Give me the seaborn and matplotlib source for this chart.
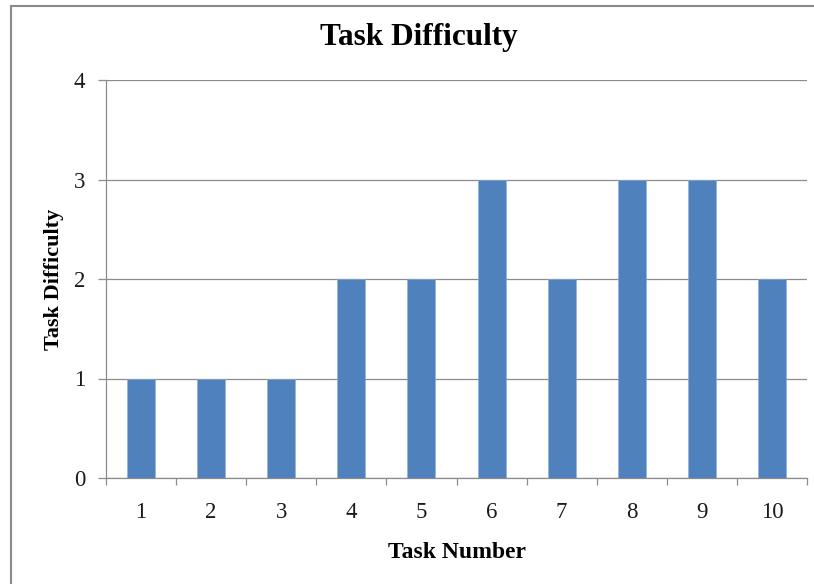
import matplotlib
matplotlib.use("Agg")
import matplotlib.pyplot as plt
import seaborn as sns
import pandas as pd
import numpy as np
from matplotlib.patches import Rectangle

# Difficulty rating for each task
tasks = ["1", "2", "3", "4", "5", "6", "7", "8", "9", "10"]
difficulty = [1, 1, 1, 2, 2, 3, 2, 3, 3, 2]
y_ticks = [0, 1, 2, 3, 4]

df = pd.DataFrame({"Task": tasks, "Difficulty": difficulty})

sns.set_theme(style="white")
plt.rcParams["font.family"] = ["Liberation Serif", "DejaVu Serif"]

fig = plt.figure(figsize=(8.14, 5.84), dpi=100)
ax = fig.add_axes([106 / 814, 1 - 478 / 584, (807 - 106) / 814, (478 - 80) / 584])

grid_col = "#8c8c8c"
sns.barplot(data=df, x="Task", y="Difficulty", order=tasks, color="#4f81bd",
            saturation=1, width=0.4, ax=ax, zorder=3, edgecolor="#8fb0d8", linewidth=0.4)

ax.set_ylim(0, 4)
ax.set_xlim(-0.5, len(tasks) - 0.5)
ax.set_yticks(y_ticks)
ax.set_yticklabels([str(v) for v in y_ticks])
ax.yaxis.grid(True, color=grid_col, linewidth=0.9, zorder=0)
ax.set_axisbelow(True)

for side in ["top", "right"]:
    ax.spines[side].set_visible(False)
for side in ["left", "bottom"]:
    ax.spines[side].set_color(grid_col)
    ax.spines[side].set_linewidth(0.9)

# Category boundary ticks on the x axis
ax.set_xticks(np.arange(-0.5, len(tasks), 1.0), minor=True)
ax.tick_params(axis="x", which="minor", direction="out", length=5, width=0.9,
               color=grid_col, bottom=True)
ax.tick_params(axis="x", which="major", length=0, pad=17, labelsize=16.5,
               labelcolor="#1a1a1a")
ax.tick_params(axis="y", which="major", direction="out", length=6, width=0.9,
               color=grid_col, left=True, pad=9, labelsize=16.5, labelcolor="#1a1a1a")

ax.set_xlabel("Task Number", fontsize=17, fontweight="bold", labelpad=14, color="black")
ax.set_ylabel("Task Difficulty", fontsize=16, fontweight="bold", labelpad=7, color="black")
fig.text(419 / 814, 1 - 37 / 584, "Task Difficulty",
         ha="center", va="center", fontsize=22.5, fontweight="bold", color="black")

# Chart area outline
fig.patches.append(Rectangle((10.5 / 814, -0.01), 1.02, 1 - 6 / 584 + 0.01,
                             transform=fig.transFigure, fill=False,
                             edgecolor="#8a8a8a", linewidth=1.5))

fig.savefig("out.png", dpi=100)
